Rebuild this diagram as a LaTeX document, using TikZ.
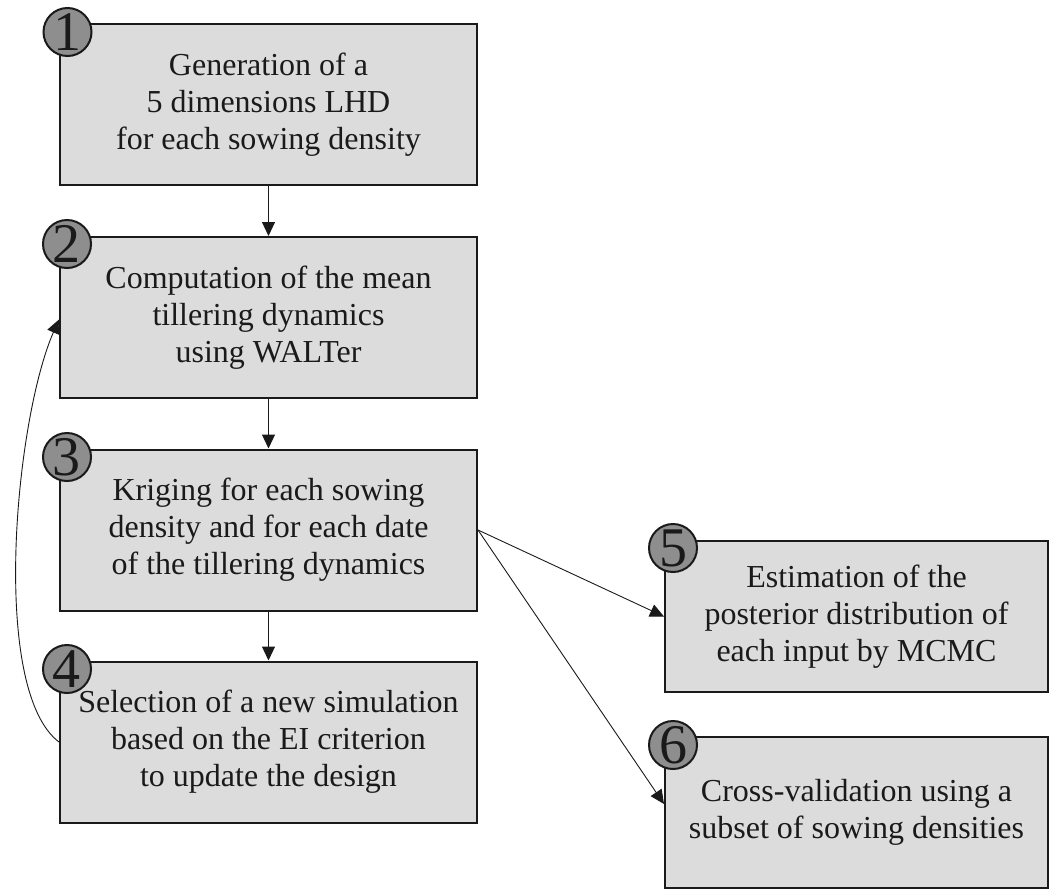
\documentclass[tikz,border=0pt]{standalone}
\usepackage{fontspec}
\setmainfont{Liberation Serif}
\usetikzlibrary{arrows.meta}
\definecolor{boxfill}{HTML}{DCDCDC}
\definecolor{numfill}{HTML}{8E8E8E}
\definecolor{ink}{HTML}{1A1A1A}
\tikzset{
  stepbox/.style={draw=ink, line width=1pt, fill=boxfill, rectangle, align=center,
    text=ink, font=\fontsize{16pt}{18.5pt}\selectfont, inner sep=0pt},
  leftbox/.style={stepbox, minimum width=208.5pt, minimum height=80.5pt},
  rightbox/.style={stepbox, minimum width=191.5pt, minimum height=75.5pt},
  numdisc/.style={draw=ink, line width=1pt, fill=numfill, circle, inner sep=0pt,
    minimum size=24pt, text=ink, font=\fontsize{28pt}{28pt}\selectfont},
  conn/.style={draw=ink, line width=0.6pt, -{Triangle[length=7pt,width=6.5pt]}},
  thinconn/.style={draw=ink, line width=0.45pt, -{Triangle[length=7pt,width=6.5pt]}}
}
\begin{document}
\begin{tikzpicture}[x=0.5pt,y=-0.5pt]
\useasboundingbox (0,0) rectangle (1050,889);
\node[leftbox] (b1) at (268.5,104.5) {Generation of a\\5 dimensions LHD\\for each sowing density};
\node[leftbox] (b2) at (268.5,317.5) {Computation of the mean\\tillering dynamics\\using WALTer};
\node[leftbox] (b3) at (268.5,530) {Kriging for each sowing\\density and for each date\\of the tillering dynamics};
\node[leftbox] (b4) at (268.5,742) {Selection of a new simulation\\based on the EI criterion\\to update the design};
\node[rightbox] (b5) at (856.5,616.5) {Estimation of the\\posterior distribution of\\each input by MCMC};
\node[rightbox] (b6) at (856.5,812) {Cross-validation using a\\subset of sowing densities};

\node[numdisc] (n1) at (67.5,32) {1};
\node[numdisc] (n2) at (67,244) {2};
\node[numdisc] (n3) at (67,457) {3};
\node[numdisc] (n4) at (67,669) {4};
\node[numdisc] (n5) at (673,548) {5};
\node[numdisc] (n6) at (673,745) {6};

\draw[conn] (b1.south) -- (b2.north);
\draw[conn] (b2.south) -- (b3.north);
\draw[conn] (b3.south) -- (b4.north);
\draw[thinconn] (b3.east) -- (b5.west);
\draw[thinconn] (b3.east) -- ([yshift=4pt]b6.west);
\draw[thinconn] (b4.west) .. controls (-10,690) and (15,420) .. ([yshift=-1pt]b2.west);
\end{tikzpicture}
\end{document}
